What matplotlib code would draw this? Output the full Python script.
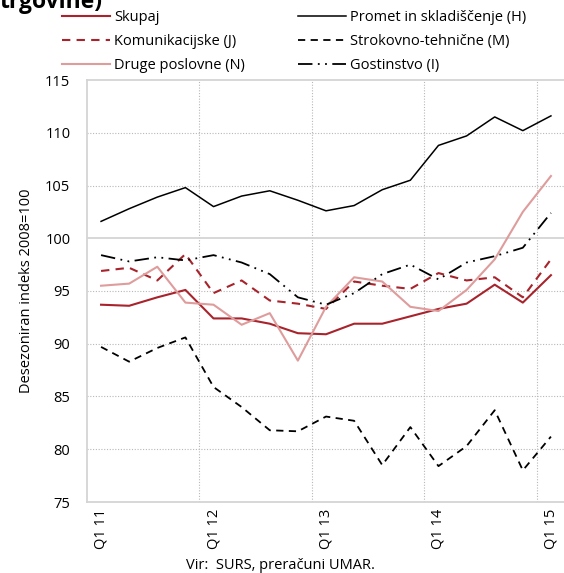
import numpy as np
import matplotlib.pyplot as plt

# quarterly, Q1 2011 .. Q1 2015
quarters = ["Q1 11", "Q2 11", "Q3 11", "Q4 11",
            "Q1 12", "Q2 12", "Q3 12", "Q4 12",
            "Q1 13", "Q2 13", "Q3 13", "Q4 13",
            "Q1 14", "Q2 14", "Q3 14", "Q4 14",
            "Q1 15"]

skupaj = [93.7, 93.6, 94.4, 95.1, 92.4, 92.4, 91.9, 91.0, 90.9, 91.9, 91.9,
          92.6, 93.3, 93.8, 95.6, 93.9, 96.5]
promet_h = [101.6, 102.8, 103.9, 104.8, 103.0, 104.0, 104.5, 103.6, 102.6,
            103.1, 104.6, 105.5, 108.8, 109.7, 111.5, 110.2, 111.6]
komunik_j = [96.9, 97.2, 96.0, 98.5, 94.8, 96.0, 94.1, 93.8, 93.3, 95.9, 95.5,
             95.2, 96.7, 96.0, 96.3, 94.4, 98.0]
strokov_m = [89.7, 88.3, 89.6, 90.6, 85.9, 84.0, 81.8, 81.7, 83.1, 82.7, 78.5,
             82.1, 78.4, 80.3, 83.7, 78.0, 81.2]
druge_n = [95.5, 95.7, 97.3, 93.9, 93.7, 91.8, 92.9, 88.4, 93.5, 96.3, 95.9,
           93.5, 93.1, 95.1, 98.0, 102.5, 105.9]
gostin_i = [98.4, 97.8, 98.2, 97.9, 98.4, 97.7, 96.6, 94.4, 93.7, 94.8, 96.6,
            97.5, 96.1, 97.7, 98.3, 99.1, 102.4]

yticks = [75, 80, 85, 90, 95, 100, 105, 110, 115]

DARKRED = "#a8232b"
PINK = "#df9c9c"

plt.rcParams["font.family"] = ["Open Sans", "DejaVu Sans"]


def main():
    fig = plt.figure(figsize=(5.64, 5.73), dpi=100)
    ax = fig.add_axes([87 / 564, 71 / 573, 478 / 564, 422 / 573])

    x = np.arange(len(quarters))
    l1, = ax.plot(x, skupaj, color=DARKRED, lw=1.5)
    l2, = ax.plot(x, komunik_j, color=DARKRED, lw=1.5, ls=(0, (4, 3)))
    l3, = ax.plot(x, druge_n, color=PINK, lw=1.5)
    l4, = ax.plot(x, promet_h, color="black", lw=1.1)
    l5, = ax.plot(x, strokov_m, color="black", lw=1.3, ls=(0, (4, 3)))
    l6, = ax.plot(x, gostin_i, color="black", lw=1.3,
                  ls=(0, (8, 3, 1, 3, 1, 3)))

    ax.set_xlim(-0.5, len(quarters) - 0.5)
    ax.set_ylim(75, 115)
    ax.set_yticks(yticks)
    ax.tick_params(axis="y", length=0, labelsize=10.5, pad=12)

    # labels only on Q1, grid between Q4 and Q1
    q1 = x[::4]
    ax.set_xticks(q1)
    ax.set_xticklabels([quarters[i] for i in q1], rotation=90, fontsize=10.5)
    ax.tick_params(axis="x", length=0, pad=5)
    for b in q1[1:] - 0.5:
        ax.axvline(b, color="#b8b8b8", lw=0.8, ls=(0, (1, 1.5)), zorder=0)
    for v in yticks[1:-1]:
        if v == 100:
            ax.axhline(v, color="#d4d4d4", lw=1.3, zorder=0)
        else:
            ax.axhline(v, color="#b8b8b8", lw=0.8, ls=(0, (1, 1.5)), zorder=0)

    for s in ax.spines.values():
        s.set_color("#d4d4d4")
        s.set_linewidth(1.3)

    ax.set_ylabel("Desezoniran indeks 2008=100", fontsize=10.5, labelpad=8)

    fig.legend([l1, l2, l3, l4, l5, l6],
               ["Skupaj", "Komunikacijske (J)", "Druge poslovne (N)",
                "Promet in skladiščenje (H)", "Strokovno-tehnične (M)",
                "Gostinstvo (I)"],
               ncol=2, loc="upper left", bbox_to_anchor=(56 / 564, 1 - 4 / 573),
               frameon=False, fontsize=10.5, handlelength=3.3,
               handletextpad=0.3, columnspacing=3.6, labelspacing=0.62,
               borderaxespad=0)

    # title is cut off at the top of the original, only its last line shows
    fig.text(0.0, 1 - 8 / 573, "trgovine)", fontsize=16.5, fontweight="bold",
             ha="left", va="baseline")
    fig.text(0.497, 0, "Vir:  SURS, preračuni UMAR.", fontsize=10.5,
             ha="center", va="bottom")

    fig.savefig("out.png", dpi=100)
    plt.close(fig)


if __name__ == "__main__":
    main()
